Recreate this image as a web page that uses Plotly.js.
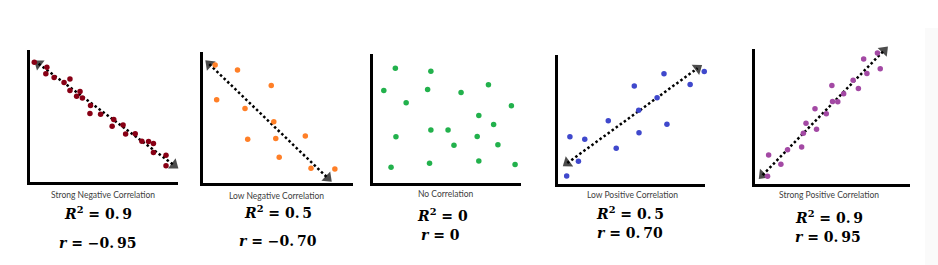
<!DOCTYPE html>
<html>
<head>
<meta charset="utf-8">
<script src="https://cdn.plot.ly/plotly-3.0.1.min.js"></script>
<style>html,body{margin:0;padding:0;background:#fff;}#chart{width:938px;height:265px;}</style>
</head>
<body>
<div id="chart"></div>
<script>
// Data (units 0-10 on each axis)
const strongNegX = [0.29,1.14,1.07,1.63,2.30,2.70,2.70,3.38,3.15,3.54,4.09,4.05,4.77,5.66,5.55,6.29,6.46,7.11,7.56,8.01,8.34,8.34,9.19,9.19];
const strongNegY = [9.08,8.70,8.20,7.92,7.54,7.80,6.94,6.86,6.49,6.37,5.79,5.19,5.14,4.74,4.23,4.31,3.63,3.66,3.08,3.06,2.91,2.23,2.03,1.23];
const strongNegTrendX = [0.58,9.73];
const strongNegTrendY = [8.95,1.28];

const lowNegX = [0.81,2.30,4.55,0.91,2.80,4.72,2.98,4.85,6.82,5.08,7.20,8.79];
const lowNegY = [9.00,8.62,7.44,6.36,5.68,4.68,3.34,3.39,3.59,1.96,1.13,1.06];
const lowNegTrendX = [0.42,8.32];
const lowNegTrendY = [9.07,0.38];

const noCorrX = [1.51,3.91,0.73,3.69,5.95,7.80,2.24,9.35,7.15,8.15,3.91,5.07,1.55,7.04,5.47,8.44,1.22,3.82,7.15,9.60];
const noCorrY = [8.90,8.67,7.18,7.24,7.01,7.62,6.22,5.99,5.24,4.53,4.11,4.11,3.58,3.61,2.92,2.96,1.23,1.53,1.71,1.43];

const lowPosX = [0.81,1.82,0.59,1.39,3.42,3.96,5.19,5.49,5.51,6.74,7.21,7.41,8.99,9.95];
const lowPosY = [3.67,3.46,0.62,1.77,4.90,2.77,7.59,5.72,3.98,6.69,8.54,4.64,7.72,8.72];
const lowPosTrendX = [0.63,9.50];
const lowPosTrendY = [1.62,8.98];

const strongPosX = [0.88,1.67,0.81,2.10,3.01,3.12,3.29,3.87,3.97,4.60,4.96,5.00,5.34,5.72,6.33,6.67,7.01,7.22,7.90,8.08];
const strongPosY = [2.14,1.47,0.57,2.53,2.75,3.76,4.50,5.58,4.05,5.21,7.30,6.12,6.09,6.68,7.69,7.07,9.26,8.18,9.71,8.53];
const strongPosTrendX = [0.49,8.33];
const strongPosTrendY = [0.66,9.90];

const labels = ["Strong Negative Correlation","Low Negative Correlation","No Correlation","Low Positive Correlation","Strong Positive Correlation"];
const r2Labels = ["0.\u20099","0.\u20095","0","0.\u20095","0.\u20099"];
const rLabels = ["\u22120.\u200995","\u22120.\u200970","0","0.\u200970","0.\u200995"];
const colors = ["#880015","#ff7f27","#22b14c","#3f48cc","#a349a4"];

const W = 938, H = 265;
// panel boxes in pixels: [left, right, top, bottom]
const boxes = [[30,178,50,182],[203,353,52,183],[373,521,54,183],[558,705,55,184],[755,910,49,184]];
const labelPos = [[102.5,195],[276.7,195.5],[445,194.3],[632.8,195],[828.7,195]];
const r2Pos = [[98.3,212.5],[277.5,212],[442.5,214.5],[630,213.3],[828.8,216.5]];
const rPos = [[97.5,243],[277.5,241],[440,235],[629.7,233.3],[827.5,236.7]];

const scat = [[strongNegX,strongNegY],[lowNegX,lowNegY],[noCorrX,noCorrY],[lowPosX,lowPosY],[strongPosX,strongPosY]];
const trends = [[strongNegTrendX,strongNegTrendY],[lowNegTrendX,lowNegTrendY],null,[lowPosTrendX,lowPosTrendY],[strongPosTrendX,strongPosTrendY]];

const traces = [];
const layout = {
  width: W, height: H,
  margin: {l:0,r:0,t:0,b:0},
  paper_bgcolor: "#fff", plot_bgcolor: "rgba(0,0,0,0)",
  showlegend: false,
  annotations: [],
  shapes: [{type:"rect", xref:"paper", yref:"paper", x0:925/W, x1:1, y0:0, y1:1-28/H, fillcolor:"#fafafa", line:{width:0}, layer:"below"}]
};

for (let i = 0; i < 5; i++) {
  const n = i === 0 ? "" : String(i+1);
  const xa = "x"+n, ya = "y"+n;
  const b = boxes[i];
  const axCommon = {range:[0,10], showgrid:false, zeroline:false, showticklabels:false, ticks:"", showline:true, linecolor:"#000", linewidth:3, fixedrange:true};
  layout["xaxis"+n] = Object.assign({}, axCommon, {domain:[b[0]/W, b[1]/W], anchor: ya});
  layout["yaxis"+n] = Object.assign({}, axCommon, {domain:[1-b[3]/H, 1-b[2]/H], anchor: xa});

  const t = trends[i];
  if (t) {
    traces.push({x:t[0], y:t[1], xaxis:xa, yaxis:ya, mode:"lines", line:{color:"#000", width:2.5, dash:"2.5px,2.5px"}, hoverinfo:"skip", cliponaxis:false});
    traces.push({x:t[0], y:t[1], xaxis:xa, yaxis:ya, mode:"markers", marker:{symbol:"triangle-up", size:[0,11], color:"#000", angleref:"previous", line:{width:0}}, hoverinfo:"skip", cliponaxis:false});
    traces.push({x:t[0].slice().reverse(), y:t[1].slice().reverse(), xaxis:xa, yaxis:ya, mode:"markers", marker:{symbol:"triangle-up", size:[0,11], color:"#000", angleref:"previous", line:{width:0}}, hoverinfo:"skip", cliponaxis:false});
  }
  traces.push({x:scat[i][0], y:scat[i][1], xaxis:xa, yaxis:ya, mode:"markers", marker:{color:colors[i], size:5.5, line:{width:0}}, cliponaxis:false});

  layout.annotations.push({xref:"paper", yref:"paper", x:labelPos[i][0]/W, y:1-labelPos[i][1]/H, text:labels[i], showarrow:false, xanchor:"center", yanchor:"middle", font:{family:"Lato, Carlito, sans-serif", size:8.5, color:"#404040"}});
  layout.annotations.push({xref:"paper", yref:"paper", x:r2Pos[i][0]/W, y:1-r2Pos[i][1]/H, text:"<b><i>R</i><sup>2</sup> = "+r2Labels[i]+"</b>", showarrow:false, xanchor:"center", yanchor:"middle", font:{family:"DejaVu Serif, serif", size:14, color:"#000"}});
  layout.annotations.push({xref:"paper", yref:"paper", x:rPos[i][0]/W, y:1-rPos[i][1]/H, text:"<b><i>r</i> = "+rLabels[i]+"</b>", showarrow:false, xanchor:"center", yanchor:"middle", font:{family:"DejaVu Serif, serif", size:14, color:"#000"}});
}

Plotly.newPlot("chart", traces, layout, {staticPlot:true, displayModeBar:false});
</script>
</body>
</html>
